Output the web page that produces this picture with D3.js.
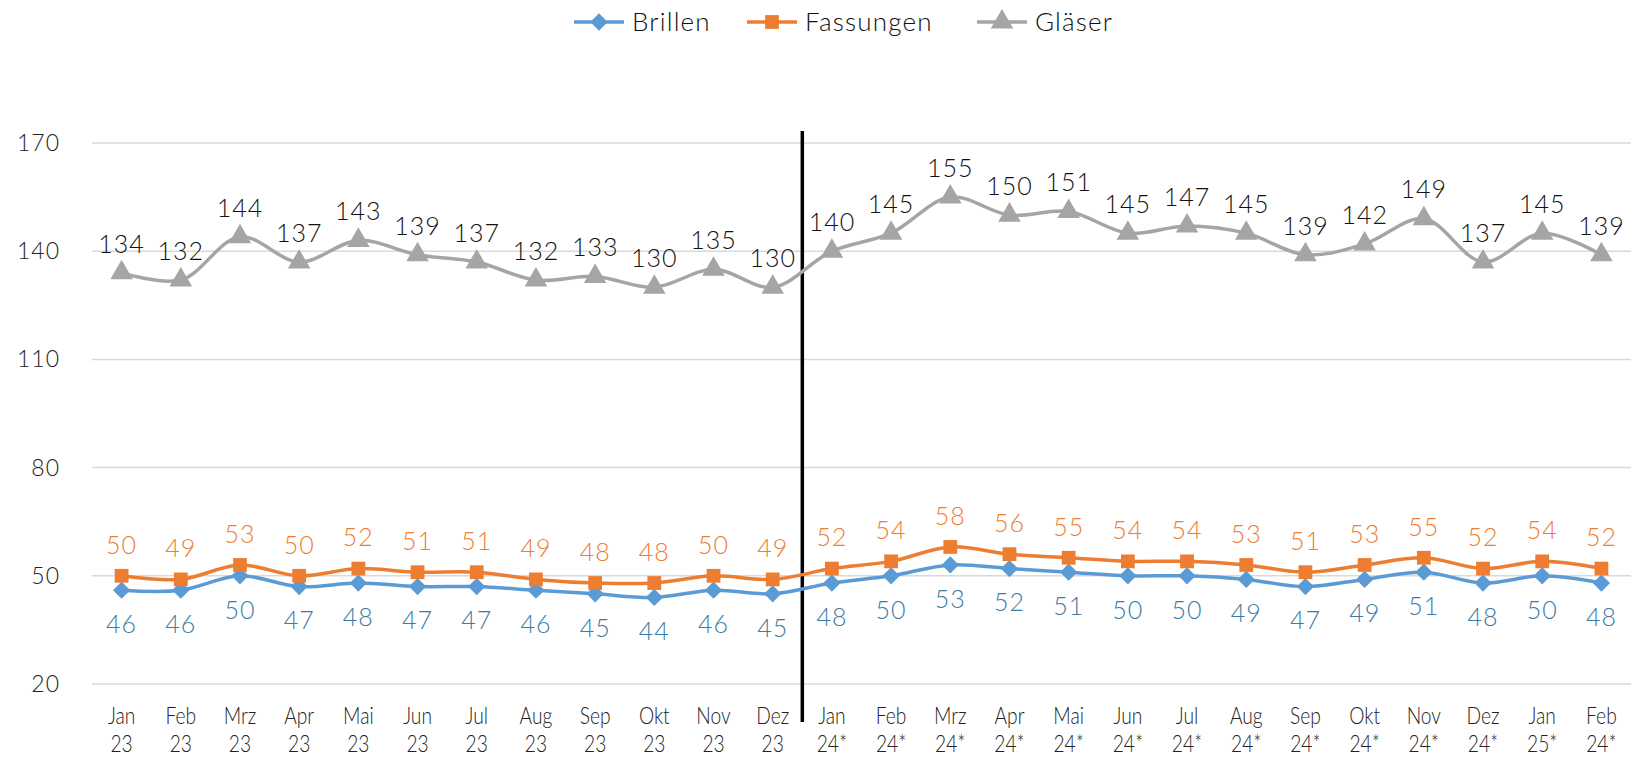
<!DOCTYPE html>
<html>
<head>
<meta charset="utf-8">
<script src="https://cdn.jsdelivr.net/npm/d3@7"></script>
<style>
  body { margin: 0; background: #fff; }
  svg { display: block; }
</style>
</head>
<body>
<div id="chart"></div>
<script>
var months = ["Jan 23", "Feb 23", "Mrz 23", "Apr 23", "Mai 23", "Jun 23", "Jul 23", "Aug 23", "Sep 23", "Okt 23", "Nov 23", "Dez 23",
    "Jan 24*", "Feb 24*", "Mrz 24*", "Apr 24*", "Mai 24*", "Jun 24*", "Jul 24*", "Aug 24*", "Sep 24*", "Okt 24*", "Nov 24*", "Dez 24*", "Jan 25*", "Feb 24*"];
var brillen = [46, 46, 50, 47, 48, 47, 47, 46, 45, 44, 46, 45, 48, 50, 53, 52, 51, 50, 50, 49, 47, 49, 51, 48, 50, 48];
var fassungen = [50, 49, 53, 50, 52, 51, 51, 49, 48, 48, 50, 49, 52, 54, 58, 56, 55, 54, 54, 53, 51, 53, 55, 52, 54, 52];
var glaeser = [134, 132, 144, 137, 143, 139, 137, 132, 133, 130, 135, 130, 140, 145, 155, 150, 151, 145, 147, 145, 139, 142, 149, 137, 145, 139];
var yTicks = [20, 50, 80, 110, 140, 170];
var splitAfter = 11; // Dez 23

var width = 1637, height = 759;
var margin = { top: 143, right: 6, bottom: 75, left: 92 };
var labelFont = "Lato, 'Open Sans', sans-serif";

var svg = d3.select("#chart").append("svg")
    .attr("width", width)
    .attr("height", height);

var x = d3.scalePoint()
    .domain(d3.range(months.length))
    .range([margin.left, width - margin.right])
    .padding(0.5);
var step = x.step();

var y = d3.scaleLinear()
    .domain([20, 170])
    .range([height - margin.bottom, margin.top]);

// gridlines
svg.append("g")
    .selectAll("line")
    .data(yTicks)
    .enter()
    .append("line")
    .attr("x1", margin.left)
    .attr("x2", width - margin.right)
    .attr("y1", function (d) { return y(d); })
    .attr("y2", function (d) { return y(d); })
    .attr("stroke", "#d9d9d9")
    .attr("stroke-width", 1.5);

// y axis labels
svg.append("g")
    .selectAll("text")
    .data(yTicks)
    .enter()
    .append("text")
    .attr("x", 60)
    .attr("y", function (d) { return y(d); })
    .attr("dy", "0.35em")
    .attr("text-anchor", "end")
    .attr("font-family", labelFont)
    .attr("font-size", 23)
    .attr("font-weight", 300)
    .attr("letter-spacing", 1)
    .attr("fill", "#222")
    .text(function (d) { return d; });

// x axis labels (two lines, condensed)
var xl = svg.append("g")
    .selectAll("text")
    .data(months)
    .enter()
    .append("text")
    .attr("transform", function (d, i) { return "translate(" + x(i) + ",0) scale(0.8,1)"; })
    .attr("text-anchor", "middle")
    .attr("font-family", labelFont)
    .attr("font-size", 24)
    .attr("font-weight", 300)
    .attr("fill", "#222");
xl.append("tspan")
    .attr("x", 0)
    .attr("y", 724)
    .text(function (d) { return d.split(" ")[0]; });
xl.append("tspan")
    .attr("x", 0)
    .attr("y", 752)
    .text(function (d) { return d.split(" ")[1]; });

// divider line
var divX = x(splitAfter) + step / 2;
svg.append("line")
    .attr("x1", divX).attr("x2", divX)
    .attr("y1", 131).attr("y2", 722)
    .attr("stroke", "#000")
    .attr("stroke-width", 3.5);

var line = d3.line()
    .x(function (d, i) { return x(i); })
    .y(function (d) { return y(d); })
    .curve(d3.curveCatmullRom.alpha(0.5));

var series = [
    { name: "Brillen", values: brillen, color: "#5b9bd5", labelColor: "#3a7ca5", symbol: d3.symbolDiamond2, size: 190, labelDy: 34 },
    { name: "Fassungen", values: fassungen, color: "#ed7d31", labelColor: "#ed7d31", symbol: d3.symbolSquare, size: 190, labelDy: -31 },
    { name: "Gläser", values: glaeser, color: "#a5a5a5", labelColor: "#111", symbol: d3.symbolTriangle, size: 220, labelDy: -29 }
];

series.forEach(function (s) {
    var g = svg.append("g");
    g.append("path")
        .datum(s.values)
        .attr("fill", "none")
        .attr("stroke", s.color)
        .attr("stroke-width", 3.5)
        .attr("d", line);
    g.selectAll("path.marker")
        .data(s.values)
        .enter()
        .append("path")
        .attr("class", "marker")
        .attr("transform", function (d, i) { return "translate(" + x(i) + "," + y(d) + ")"; })
        .attr("d", d3.symbol().type(s.symbol).size(s.size))
        .attr("fill", s.color);
    g.selectAll("text")
        .data(s.values)
        .enter()
        .append("text")
        .attr("x", function (d, i) { return x(i); })
        .attr("y", function (d) { return y(d) + s.labelDy; })
        .attr("dy", "0.35em")
        .attr("text-anchor", "middle")
        .attr("font-family", labelFont)
        .attr("font-size", 25)
        .attr("font-weight", 300)
        .attr("letter-spacing", 1)
        .attr("fill", s.labelColor)
        .text(function (d) { return d; });
});

// legend
var legend = svg.append("g").attr("transform", "translate(0,22)");
var legendX = [574, 747, 977];
series.forEach(function (s, i) {
    var lg = legend.append("g").attr("transform", "translate(" + legendX[i] + ",0)");
    lg.append("line")
        .attr("x1", 0).attr("x2", 50)
        .attr("stroke", s.color)
        .attr("stroke-width", 3.5);
    lg.append("path")
        .attr("transform", "translate(25,0)")
        .attr("d", d3.symbol().type(s.symbol).size(s.size))
        .attr("fill", s.color);
    lg.append("text")
        .attr("x", 58)
        .attr("dy", "0.35em")
        .attr("font-family", labelFont)
        .attr("font-size", 26)
        .attr("font-weight", 300)
        .attr("letter-spacing", 1.2)
        .attr("fill", "#111")
        .text(s.name);
});
</script>
</body>
</html>
